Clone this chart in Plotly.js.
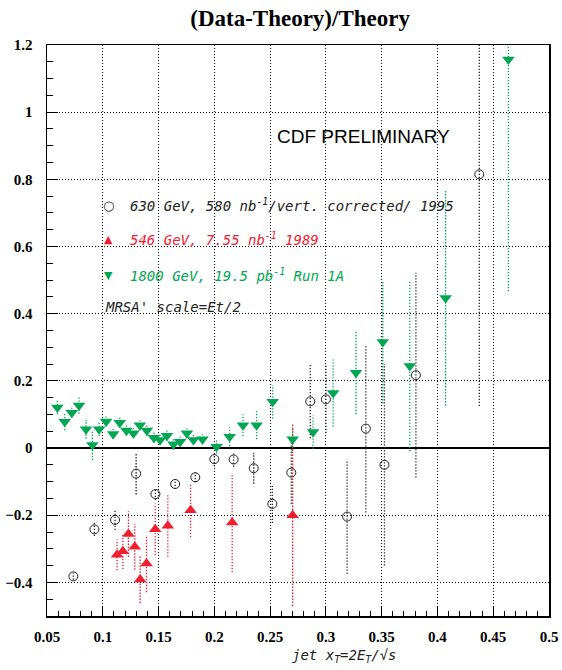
<!DOCTYPE html>
<html>
<head>
<meta charset="utf-8">
<script src="https://cdn.plot.ly/plotly-3.0.1.min.js"></script>
<style>body{margin:0;background:#fff}#chart{width:562px;height:670px}</style>
</head>
<body>
<div id="chart"></div>
<script>
// 1800 GeV, 19.5 pb-1 Run 1A
const x1800 = [0.0593,0.0659,0.0722,0.0787,0.085,0.0907,0.0967,0.103,0.1093,0.1152,0.1212,0.1275,0.1332,0.1395,0.1458,0.1514,0.1575,0.1634,0.1694,0.1754,0.1813,0.1894,0.202,0.2137,0.2257,0.2379,0.2523,0.2702,0.2885,0.3065,0.327,0.351,0.3752,0.4073,0.4636];
const y1800 = [0.121,0.078,0.105,0.127,0.056,0.009,0.056,0.079,0.042,0.075,0.052,0.044,0.068,0.052,0.031,0.024,0.037,0.011,0.019,0.044,0.024,0.026,0.004,0.034,0.068,0.068,0.138,0.026,0.048,0.164,0.224,0.316,0.244,0.447,1.157];
const e1800 = [0.02,0.025,0.015,0.025,0.028,0.045,0.02,0.015,0.015,0.015,0.015,0.015,0.015,0.015,0.015,0.015,0.015,0.015,0.015,0.015,0.015,0.015,0.02,0.028,0.033,0.042,0.05,0.035,0.05,0.1,0.123,0.183,0.253,0.32,0.69];
// 546 GeV, 7.55 nb-1 1989
const x546 = [0.1128,0.118,0.123,0.1287,0.1335,0.1392,0.147,0.1583,0.1787,0.216,0.2702];
const y546 = [-0.318,-0.307,-0.256,-0.294,-0.391,-0.344,-0.242,-0.231,-0.185,-0.222,-0.2];
const e546 = [0.046,0.053,0.068,0.068,0.07,0.085,0.077,0.092,0.08,0.148,0.27];
// 630 GeV, 580 nb-1 / vert. corrected / 1995
const x630 = [0.0736,0.0925,0.111,0.1299,0.1472,0.1649,0.1829,0.2,0.2173,0.2353,0.252,0.269,0.286,0.3,0.319,0.3358,0.3525,0.3807,0.4375];
const y630 = [-0.382,-0.242,-0.214,-0.076,-0.137,-0.107,-0.087,-0.033,-0.034,-0.06,-0.166,-0.073,0.139,0.145,-0.204,0.058,-0.05,0.217,0.815];
const e630 = [0.01,0.02,0.03,0.062,0.018,0.015,0.015,0.022,0.022,0.046,0.057,0.093,0.11,0.1,0.17,0.25,0.3,0.305,0.69];

const legendLabels = ["630 GeV, 580 nb<sup>-1</sup>/vert. corrected/ 1995","546 GeV, 7.55 nb<sup>-1</sup> 1989","1800 GeV, 19.5 pb<sup>-1</sup> Run 1A","MRSA' scale=Et/2"];

const BLACK='#222222', RED='#ee2030', GREEN='#00a651';

function bars(xs, ys, es){
  const bx=[], by=[];
  for(let i=0;i<xs.length;i++){ bx.push(xs[i],xs[i],null); by.push(ys[i]-es[i],ys[i]+es[i],null); }
  return {bx,by};
}
function barTrace(xs,ys,es,color){
  const b=bars(xs,ys,es);
  return {x:b.bx,y:b.by,mode:'lines',type:'scatter',line:{color:color,width:1.3,dash:'1.3px,1.7px'},hoverinfo:'skip',showlegend:false,cliponaxis:true};
}
const traces=[
  barTrace(x630,y630,e630,BLACK),
  {x:x630,y:y630,mode:'markers',type:'scatter',marker:{symbol:'circle-open',size:9,color:BLACK,line:{width:1,color:BLACK}},showlegend:false},
  barTrace(x546,y546,e546,RED),
  {x:x546,y:y546,mode:'markers',type:'scatter',marker:{symbol:'triangle-up',size:11,color:RED},showlegend:false},
  barTrace(x1800,y1800,e1800,GREEN),
  {x:x1800,y:y1800,mode:'markers',type:'scatter',marker:{symbol:'triangle-down',size:11,color:GREEN},showlegend:false}
];

const tickFont={family:'Liberation Serif, Times New Roman, serif',size:15,color:'#000',weight:'bold'};
const legFont=(c)=>({family:'DejaVu Sans Mono, monospace',size:14,color:c});
const layout={
  width:562,height:670,
  margin:{l:47,r:13,t:45,b:54},
  paper_bgcolor:'#fff',plot_bgcolor:'#fff',
  showlegend:false,
  title:{text:'<b>(Data-Theory)/Theory</b>',x:0.534,xanchor:'center',y:0.973,yanchor:'middle',font:{family:'Liberation Serif, Times New Roman, serif',size:23,color:'#000'}},
  xaxis:{range:[0.05,0.5],dtick:0.05,tick0:0.05,showgrid:true,gridcolor:'#000',gridwidth:1,griddash:'1px,2px',
    showline:true,mirror:true,linecolor:'#000',linewidth:1.5,ticks:'inside',ticklen:10,tickwidth:1.2,tickcolor:'#000',
    minor:{ticks:'inside',dtick:0.01,ticklen:5,tickwidth:1,tickcolor:'#000',showgrid:false},
    zeroline:false,tickfont:tickFont,ticklabelstandoff:6},
  yaxis:{range:[-0.5,1.2],dtick:0.2,tick0:0,showgrid:true,gridcolor:'#000',gridwidth:1,griddash:'1px,2px',
    showline:true,mirror:true,linecolor:'#000',linewidth:1.5,ticks:'inside',ticklen:11,tickwidth:1.2,tickcolor:'#000',
    minor:{ticks:'inside',dtick:0.05,ticklen:6,tickwidth:1,tickcolor:'#000',showgrid:false},
    zeroline:true,zerolinecolor:'#000',zerolinewidth:1.5,tickfont:tickFont,ticklabelstandoff:10},
  annotations:[
    {x:0.3337,y:0.929,xref:'x',yref:'y',text:'CDF PRELIMINARY',showarrow:false,xanchor:'center',yanchor:'middle',font:{family:'Liberation Sans, Arial, sans-serif',size:19,color:'#000'}},
    {x:0.1048,y:0.723,xref:'x',yref:'y',text:'○',showarrow:false,xanchor:'center',yanchor:'middle',font:{family:'DejaVu Sans',size:13,color:BLACK}},
    {x:0.1227,y:0.723,xref:'x',yref:'y',text:'<i>'+legendLabels[0]+'</i>',showarrow:false,xanchor:'left',yanchor:'middle',font:legFont(BLACK)},
    {x:0.1048,y:0.622,xref:'x',yref:'y',text:'▲',showarrow:false,xanchor:'center',yanchor:'middle',font:{family:'DejaVu Sans',size:11,color:RED}},
    {x:0.1227,y:0.622,xref:'x',yref:'y',text:'<i>'+legendLabels[1]+'</i>',showarrow:false,xanchor:'left',yanchor:'middle',font:legFont(RED)},
    {x:0.1048,y:0.515,xref:'x',yref:'y',text:'▼',showarrow:false,xanchor:'center',yanchor:'middle',font:{family:'DejaVu Sans',size:11,color:GREEN}},
    {x:0.1227,y:0.515,xref:'x',yref:'y',text:'<i>'+legendLabels[2]+'</i>',showarrow:false,xanchor:'left',yanchor:'middle',font:legFont(GREEN)},
    {x:0.1,y:0.42,xref:'x',yref:'y',text:'<i>'+legendLabels[3]+'</i>',showarrow:false,xanchor:'left',yanchor:'middle',font:legFont(BLACK)},
    {x:0.592,y:-0.07,xref:'paper',yref:'paper',text:'<i>jet x<sub>T</sub>=2E<sub>T</sub>/√s</i>',showarrow:false,xanchor:'center',yanchor:'middle',font:legFont(BLACK)}
  ]
};
Plotly.newPlot('chart',traces,layout,{staticPlot:true,displayModeBar:false});
</script>
</body>
</html>
